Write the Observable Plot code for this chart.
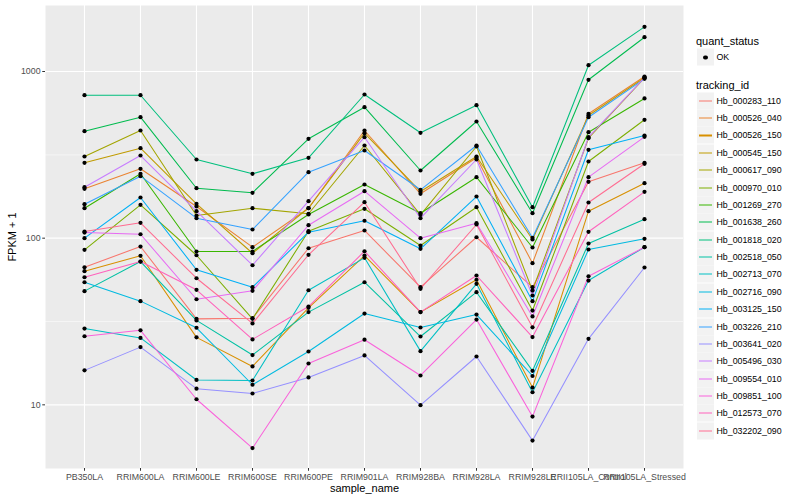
<!DOCTYPE html>
<html><head><meta charset="utf-8">
<script src="https://cdn.jsdelivr.net/npm/d3@7"></script>
<script src="https://cdn.jsdelivr.net/npm/@observablehq/plot@0.6"></script>
<style>
body{margin:0;background:#fff;font-family:"Liberation Sans",Arial,Helvetica,sans-serif;}
#wrap{position:relative;width:800px;height:500px;overflow:hidden;}
#chart{position:absolute;left:0;top:0;}
.lt{position:absolute;font-size:11px;line-height:11px;color:#000;white-space:nowrap;transform:translateY(-50%);}
.key{position:absolute;width:17px;height:17px;background:#F2F2F2;transform:translateY(-50%);}
.kl{position:absolute;font-size:8.8px;line-height:9px;color:#000;white-space:nowrap;transform:translateY(-50%);}
</style></head><body>
<div id="wrap"><div id="chart"></div><div id="legend"></div></div>
<script>
const categories = ["PB350LA","RRIM600LA","RRIM600LE","RRIM600SE","RRIM600PE","RRIM901LA","RRIM928BA","RRIM928LA","RRIM928LE","RRII105LA_Control","RRII105LA_Stressed"];
const yTicks = [10, 100, 1000];
const yMinor = [31.6, 316];
const statusLabels = ["OK"];

const Hb_000283_110 = [66.9, 89.1, 32.8, 33.1, 87.0, 111.2, 50.8, 101.3, 50.8, 217.9, 283.3];
const Hb_000526_040 = [197.8, 260.8, 154.9, 88.3, 151.3, 442.6, 184.6, 303.5, 70.8, 557.5, 933];
const Hb_000526_150 = [63.4, 78.4, 25.4, 17.0, 38.2, 78.7, 36.0, 56.3, 12.7, 145.2, 213.7];
const Hb_000545_150 = [283.3, 346.6, 160.8, 81.2, 151.3, 426.5, 190.5, 309.0, 98.2, 544.5, 917];
const Hb_000617_090 = [309.0, 442.6, 136.8, 151.3, 140.1, 359.7, 138.1, 354.8, 48.5, 397.9, 914];
const Hb_000970_010 = [85.1, 158.6, 79.0, 32.8, 110.1, 150.1, 90.4, 153.4, 36.8, 288.4, 513.2];
const Hb_001269_270 = [151.3, 243.3, 83.2, 83.2, 138.7, 209.9, 141.2, 232.2, 87.9, 432.4, 689];
const Hb_001638_260 = [438.4, 531.9, 199.4, 187.2, 394.6, 610.7, 254.7, 501.2, 141.2, 892, 1606];
const Hb_001818_020 = [720.6, 720.6, 296.5, 243.3, 303.5, 727.8, 428.8, 627.9, 153.4, 1091, 1854];
const Hb_002518_050 = [48.1, 72.4, 32.1, 19.9, 36.0, 54.4, 25.7, 47.4, 16.0, 92.9, 130.0];
const Hb_002713_070 = [28.7, 25.2, 14.1, 14.0, 48.7, 76.2, 21.0, 53.2, 11.9, 55.7, 88.3];
const Hb_002716_090 = [54.4, 41.9, 29.0, 13.2, 20.9, 35.3, 29.1, 34.8, 14.9, 85.5, 99.1];
const Hb_003125_150 = [100.0, 175.4, 64.6, 50.8, 108.6, 127.2, 86.3, 177.8, 41.9, 339.0, 413];
const Hb_003226_210 = [159.9, 235.4, 131.8, 112.7, 248.8, 335.7, 195.1, 359.7, 100.5, 531.9, 904];
const Hb_003641_020 = [16.1, 22.2, 12.5, 11.7, 14.6, 19.8, 9.95, 19.5, 6.1, 24.9, 66.7];
const Hb_005496_030 = [202.2, 313.3, 145.2, 68.8, 166.7, 403.4, 131.8, 296.5, 45.3, 403.4, 920];
const Hb_009554_010 = [108.1, 105.6, 43.0, 48.3, 119.6, 191.3, 100.0, 123.0, 33.9, 232.2, 405.7];
const Hb_009851_100 = [25.8, 28.0, 10.8, 5.5, 17.7, 24.6, 15.0, 32.5, 8.5, 59.1, 88.3];
const Hb_012573_070 = [58.3, 72.4, 49.0, 24.7, 38.9, 83.5, 36.0, 59.7, 25.5, 109.2, 189.7];
const Hb_032202_090 = [109.6, 123.7, 57.5, 30.8, 79.5, 164.4, 49.7, 120.8, 29.2, 163.7, 279.4];

const ids = ["Hb_000283_110","Hb_000526_040","Hb_000526_150","Hb_000545_150","Hb_000617_090","Hb_000970_010","Hb_001269_270","Hb_001638_260","Hb_001818_020","Hb_002518_050","Hb_002713_070","Hb_002716_090","Hb_003125_150","Hb_003226_210","Hb_003641_020","Hb_005496_030","Hb_009554_010","Hb_009851_100","Hb_012573_070","Hb_032202_090"];
const seriesValues = [Hb_000283_110,Hb_000526_040,Hb_000526_150,Hb_000545_150,Hb_000617_090,Hb_000970_010,Hb_001269_270,Hb_001638_260,Hb_001818_020,Hb_002518_050,Hb_002713_070,Hb_002716_090,Hb_003125_150,Hb_003226_210,Hb_003641_020,Hb_005496_030,Hb_009554_010,Hb_009851_100,Hb_012573_070,Hb_032202_090];
const colors = ["#F8766D","#EA8331","#D89000","#C09B00","#A3A500","#7CAE00","#39B600","#00BB4E","#00BF7D","#00C1A3","#00BFC4","#00BAE0","#00B0F6","#35A2FF","#9590FF","#C77CFF","#E76BF3","#FA62DB","#FF62BC","#FF6C91"];

const seriesData = ids.map((id, i) => seriesValues[i].map((v, j) => ({id, sample: categories[j], value: v})));
const data = seriesData.flat();

const font = '"Liberation Sans", Arial, Helvetica, sans-serif';
const lineMarks = seriesData.map((rows, i) =>
  Plot.line(rows, {x: "sample", y: "value", stroke: colors[i], strokeWidth: 1.05}));

const chart = Plot.plot({
  width: 690, height: 500,
  marginTop: 5, marginRight: 7, marginBottom: 32, marginLeft: 45,
  style: {fontFamily: font, fontSize: "8.8px", background: "transparent", overflow: "visible"},
  x: {type: "point", domain: categories, padding: 0.6},
  y: {type: "log", domain: [4.15, 2489]},
  marks: [
    Plot.frame({fill: "#EBEBEB", stroke: "none"}),
    Plot.ruleY(yMinor, {stroke: "#ffffff", strokeWidth: 0.55}),
    Plot.ruleY(yTicks, {stroke: "#ffffff", strokeWidth: 1.1}),
    Plot.ruleX(categories, {stroke: "#ffffff", strokeWidth: 1.1}),
    Plot.axisY({ticks: yTicks, tickFormat: d => String(d), tickSize: 2.75, tickPadding: 2.2, stroke: "#333333", fill: "#4D4D4D", label: null, fontSize: 8.8}),
    Plot.axisX({tickSize: 2.75, tickPadding: 2.2, stroke: "#333333", fill: "#4D4D4D", label: null, fontSize: 8.8}),
    ...lineMarks,
    Plot.dot(data, {x: "sample", y: "value", fill: "#000000", stroke: "none", r: 2.1}),
    Plot.text(["sample_name"], {text: d => d, frameAnchor: "bottom", dy: 20, lineAnchor: "middle", textAnchor: "middle", fontSize: 11, fill: "#000"}),
    Plot.text(["FPKM + 1"], {text: d => d, frameAnchor: "left", dx: -33, rotate: -90, textAnchor: "middle", lineAnchor: "middle", fontSize: 11, fill: "#000"})
  ]
});
document.getElementById("chart").appendChild(chart);

// legend
const leg = document.getElementById("legend");
function add(cls, left, top, html, extra) {
  const d = document.createElement("div");
  d.className = cls; d.style.left = left + "px"; d.style.top = top + "px";
  if (html) d.textContent = html;
  if (extra) extra(d);
  leg.appendChild(d); return d;
}
add("lt", 696, 40.7, "quant_status");
statusLabels.forEach((s, i) => {
  add("key", 697, 57.2 + i * 17.37, null, d => {
    const dot = document.createElement("div");
    dot.style.cssText = "position:absolute;left:6.4px;top:6.4px;width:4.2px;height:4.2px;border-radius:50%;background:#000;";
    d.appendChild(dot);
  });
  add("kl", 716.5, 57.2 + i * 17.37, s);
});
add("lt", 696, 84.5, "tracking_id");
ids.forEach((id, i) => {
  const cy = 100.7 + i * 17.37;
  add("key", 697, cy, null, d => {
    const ln = document.createElement("div");
    ln.style.cssText = "position:absolute;left:1.8px;top:8px;width:13.4px;height:1.1px;background:" + colors[i] + ";";
    d.appendChild(ln);
  });
  add("kl", 716.5, cy, id);
});
</script>
</body></html>
